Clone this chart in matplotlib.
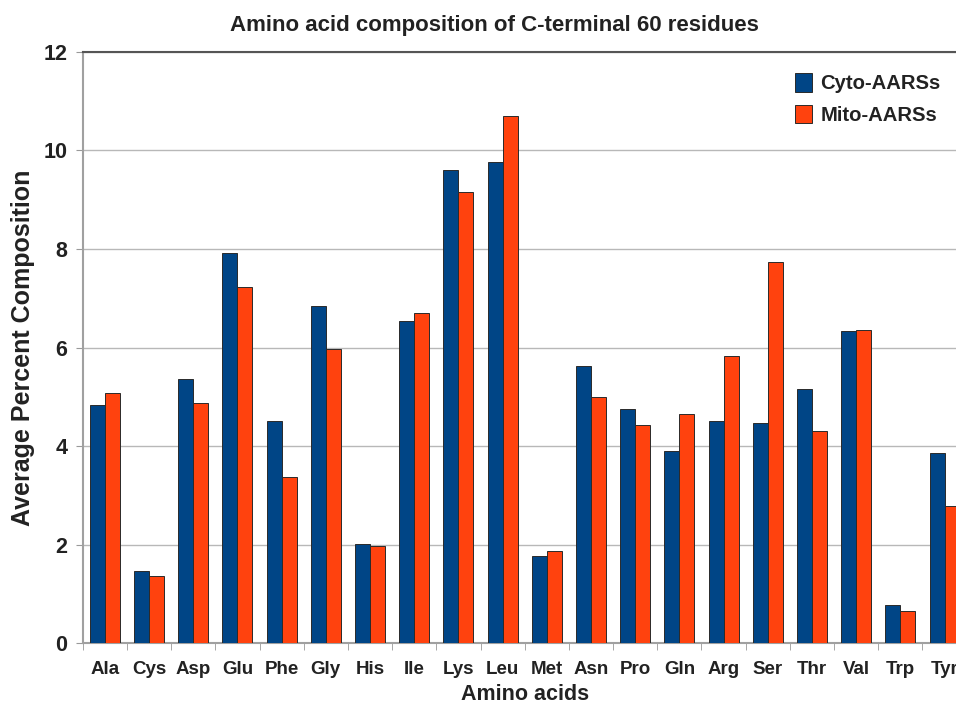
import numpy as np
import matplotlib
matplotlib.use('Agg')
import matplotlib.pyplot as plt
from matplotlib.ticker import FixedLocator

# Data
amino_acids = ['Ala', 'Cys', 'Asp', 'Glu', 'Phe', 'Gly', 'His', 'Ile', 'Lys', 'Leu',
               'Met', 'Asn', 'Pro', 'Gln', 'Arg', 'Ser', 'Thr', 'Val', 'Trp', 'Tyr']
cyto = [4.83, 1.47, 5.36, 7.91, 4.51, 6.84, 2.02, 6.54, 9.61, 9.76,
        1.78, 5.62, 4.75, 3.90, 4.51, 4.47, 5.16, 6.34, 0.77, 3.85]
mito = [5.08, 1.37, 4.87, 7.22, 3.37, 5.97, 1.98, 6.70, 9.15, 10.70,
        1.88, 5.00, 4.43, 4.65, 5.83, 7.74, 4.31, 6.36, 0.66, 2.79]
y_ticks = [0, 2, 4, 6, 8, 10, 12]

plt.rcParams['font.family'] = ['Liberation Sans', 'DejaVu Sans']
plt.rcParams['font.weight'] = 'bold'

fig = plt.figure(figsize=(9.56, 7.05), dpi=100)
# the original chart is cropped on the right, so the axes run past the figure edge
ax = fig.add_axes([82.7 / 956, (705 - 643.3) / 705, (966.7 - 82.7) / 956, (643.3 - 51.7) / 705])

x = np.arange(len(amino_acids))
w = 0.34
ax.bar(x - w / 2, cyto, w, color='#004586', edgecolor='#2a2a2a', linewidth=0.7,
       label='Cyto-AARSs', zorder=3)
ax.bar(x + w / 2, mito, w, color='#ff420e', edgecolor='#2a2a2a', linewidth=0.7,
       label='Mito-AARSs', zorder=3)

ax.set_xlim(-0.5, len(amino_acids) - 0.5)
ax.set_ylim(0, 12)
ax.set_yticks(y_ticks)
ax.set_yticklabels([str(t) for t in y_ticks], fontsize=15.5, fontweight='bold', color='#222222')
ax.yaxis.grid(True, color='#b8b8b8', linewidth=1, zorder=0)
ax.axhline(12, color='#555555', linewidth=1.5, zorder=4, clip_on=False)

ax.set_xticks(x)
ax.set_xticklabels(amino_acids, fontsize=13.5, fontweight='bold', color='#222222')
ax.xaxis.set_minor_locator(FixedLocator(np.arange(-0.5, len(amino_acids), 1)))
ax.tick_params(axis='x', which='major', length=0, pad=13)
ax.tick_params(axis='x', which='minor', length=5, color='#999999', direction='out')
ax.tick_params(axis='y', length=5, color='#999999', direction='out', pad=6)

for side in ['top', 'right']:
    ax.spines[side].set_visible(False)
for side in ['left', 'bottom']:
    ax.spines[side].set_color('#a0a0a0')
    ax.spines[side].set_linewidth(1.5)

ax.set_xlabel('Amino acids', fontsize=15.5, fontweight='bold', color='#222222', labelpad=4)
ax.set_ylabel('Average Percent Composition', fontsize=18, fontweight='bold',
              color='#222222', labelpad=6)

fig.text(494 / 956, 1 - 25 / 705, 'Amino acid composition of C-terminal 60 residues',
         ha='center', va='center', fontsize=16, fontweight='bold', color='#222222')

leg = ax.legend(loc='upper left', bbox_to_anchor=((787 - 82.7) / 884, 0.977),
                frameon=False, fontsize=14.6, handlelength=0.85, handleheight=1.0,
                handletextpad=0.4, labelspacing=0.55, borderaxespad=0)
for t in leg.get_texts():
    t.set_fontweight('bold')
    t.set_color('#222222')

fig.savefig('out.png', dpi=100)
